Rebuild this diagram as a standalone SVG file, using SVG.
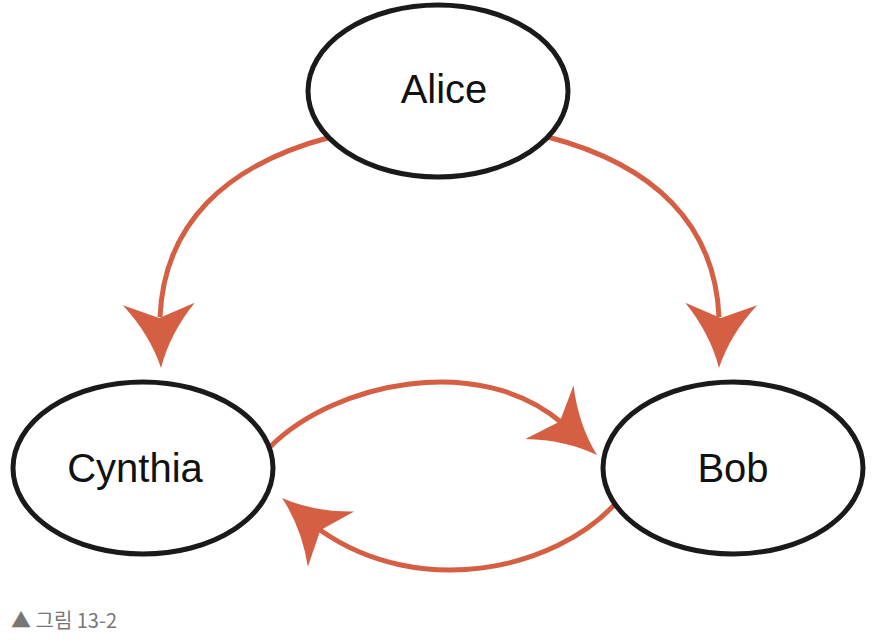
<svg xmlns="http://www.w3.org/2000/svg" width="878" height="642" viewBox="0 0 878 642">
<style>
.node ellipse{fill:#fff;stroke:#1a1a1a;stroke-width:5}
.node text{font-family:"Liberation Sans",Arial,sans-serif;font-size:40px;fill:#111;text-anchor:middle}
.edge{fill:none;stroke:#d45f43;stroke-width:5}
.head{fill:#d45f43}
.cap{font-family:"Noto Sans CJK KR","Noto Sans",sans-serif;font-size:20px;fill:#777}
</style>
<defs>
<path id="ah" d="M0,0 Q-34,-10 -64,-36 L-50,0 L-64,36 Q-34,10 0,0 Z"/>
</defs>
<rect width="878" height="642" fill="#fff"/>
<g id="connectors">
<path class="edge" d="M331,137 C224,165 164,225 160,317"/>
<use href="#ah" class="head" transform="translate(161,368) rotate(88)"/>
<path class="edge" d="M548,137 C655,165 715,225 719,317"/>
<use href="#ah" class="head" transform="translate(719,368) rotate(92)"/>
<path class="edge" d="M270,447 C335,382 480,352 562,423"/>
<use href="#ah" class="head" transform="translate(597,455) rotate(42)"/>
<path class="edge" d="M616,503 C555,570 420,600 320,530"/>
<use href="#ah" class="head" transform="translate(282,498) rotate(220)"/>
</g>
<g id="alice" class="node">
<ellipse cx="438" cy="91" rx="130" ry="86"/>
<text x="444" y="103">Alice</text>
</g>
<g id="cynthia" class="node">
<ellipse cx="143" cy="468" rx="130" ry="86"/>
<text x="135" y="482">Cynthia</text>
</g>
<g id="bob" class="node">
<ellipse cx="733" cy="468" rx="130" ry="86"/>
<text x="733" y="482">Bob</text>
</g>
<text class="cap" x="11" y="628">▲ 그림 13-2</text>
</svg>
